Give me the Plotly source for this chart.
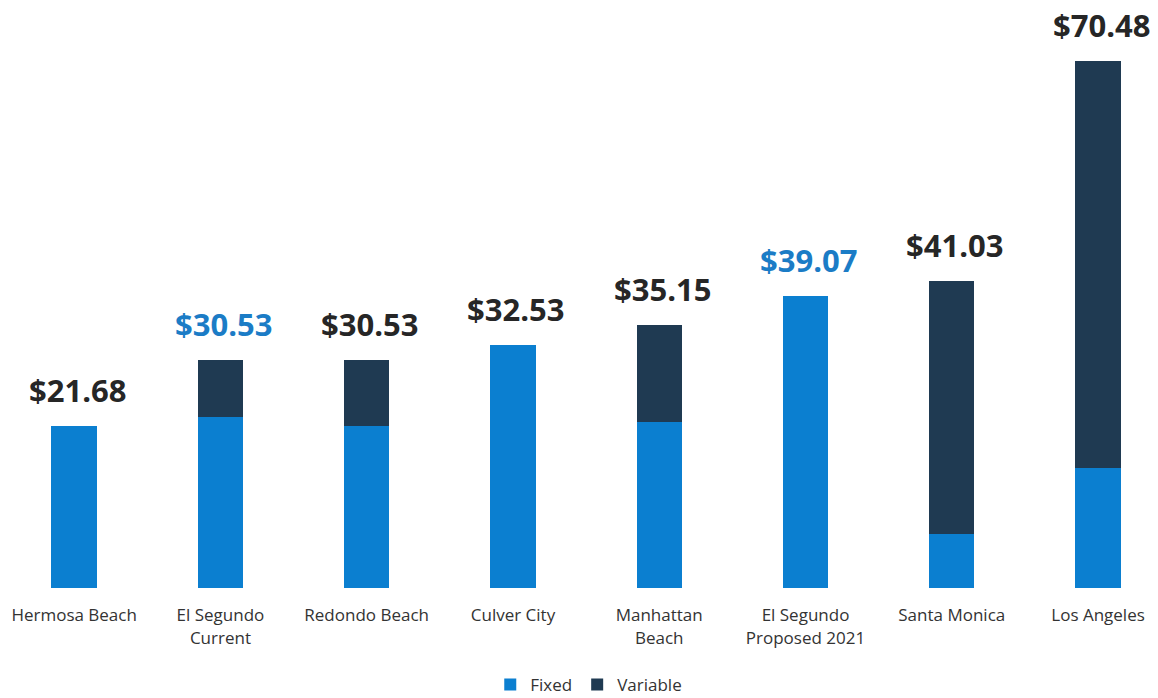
import plotly.graph_objects as go

# Monthly rate comparison by city, split into fixed and variable charges
cities = ["Hermosa Beach", "El Segundo<br>Current", "Redondo Beach", "Culver City",
          "Manhattan<br>Beach", "El Segundo<br>Proposed 2021", "Santa Monica", "Los Angeles"]
totals = [21.68, 30.53, 30.53, 32.53, 35.15, 39.07, 41.03, 70.48]
fixed = [21.68, 22.87, 21.60, 32.53, 22.20, 39.07, 7.22, 16.05]
variable = [round(t - f, 2) for t, f in zip(totals, fixed)]
label_colors = ["#262626", "#1b7cc6", "#262626", "#262626",
                "#262626", "#1b7cc6", "#262626", "#262626"]

BLUE = "#0b7fd0"
NAVY = "#1f3a52"

x = list(range(len(cities)))

fig = go.Figure()
fig.add_trace(go.Bar(x=x, y=fixed, name="Fixed", marker_color=BLUE,
                     marker_line_width=0))
fig.add_trace(go.Bar(x=x, y=variable, name="Variable", marker_color=NAVY,
                     marker_line_width=0))

for i, (t, c) in enumerate(zip(totals, label_colors)):
    fig.add_annotation(x=i, y=t, text=f"${t:.2f}", showarrow=False,
                       yanchor="middle", yshift=36, xshift=3,
                       font=dict(family="Open Sans", size=31, color=c, weight="bold"))

fig.update_layout(
    barmode="stack",
    bargap=0.69,
    width=1158, height=698,
    margin=dict(l=1, r=0, t=0, b=110, autoexpand=False),
    paper_bgcolor="white", plot_bgcolor="white",
    font=dict(family="Open Sans", color="#333333"),
    showlegend=True,
    legend=dict(orientation="h", x=0.508, xanchor="center", y=-0.165, yanchor="middle",
                font=dict(size=17, color="#333333"), traceorder="normal",
                itemwidth=30),
)
fig.update_xaxes(range=[-0.5, 7.41], tickmode="array", tickvals=x, ticktext=cities,
                 showgrid=False, zeroline=False, showline=False, automargin=False,
                 ticks="outside", ticklen=12, tickcolor="rgba(0,0,0,0)",
                 tickfont=dict(size=17, color="#333333"))
fig.update_yaxes(range=[0, 78.64], visible=False, showgrid=False, zeroline=False,
                 automargin=False)

fig.write_html("out.html")
